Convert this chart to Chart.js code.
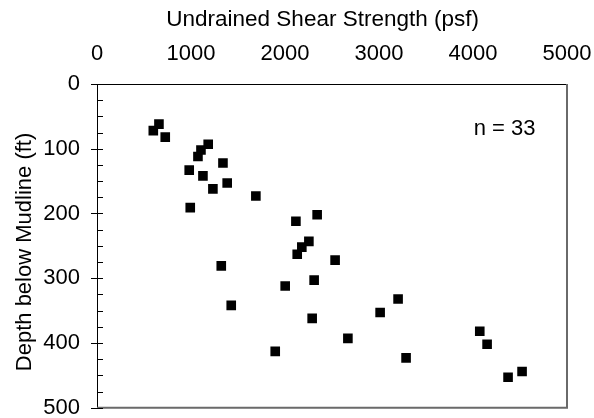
<!DOCTYPE html>
<html>
<head>
<meta charset="utf-8">
<script src="https://cdn.jsdelivr.net/npm/chart.js@4"></script>
<style>
  body { margin: 0; background: #fff; }
  canvas { display: block; }
</style>
</head>
<body>
<canvas id="shear" width="594" height="418"></canvas>
<script>
// shear strength (psf) vs depth below mudline (ft)
const strength = [599, 659, 726, 1183, 1106, 1074, 1340, 981, 1127, 1385, 1233, 1690, 992, 2116,
  2342, 2254, 2179, 2130, 2533, 2310, 2002, 3203, 3012, 2289, 4072, 4150, 2669, 1896, 3288,
  4522, 4373, 1322, 1428];
const depth = [72, 62, 82, 93, 102, 112, 122, 133, 142, 153, 162, 173, 191, 212,
  202, 243, 252, 263, 272, 303, 312, 332, 353, 362, 382, 402, 393, 413, 423,
  444, 453, 281, 342];
const xTicks = [0, 1000, 2000, 3000, 4000, 5000];
const yTicks = [0, 100, 200, 300, 400, 500];
const noteText = 'n = ' + strength.length;
const notePos = [4336, 70];

const FONT = 'Arial, "Liberation Sans", sans-serif';

// frame lines, inner/minor ticks on depth axis, sample count note
const extras = {
  id: 'extras',
  afterDraw(chart) {
    const {ctx, chartArea: a, scales: {x, y}} = chart;
    ctx.save();
    ctx.strokeStyle = '#6a6a6a';
    ctx.lineWidth = 2;
    ctx.beginPath();
    ctx.moveTo(a.right, a.top);
    ctx.lineTo(a.right, a.bottom);
    ctx.lineTo(a.left, a.bottom);
    ctx.stroke();

    ctx.strokeStyle = '#000';
    ctx.lineWidth = 1;
    ctx.beginPath();
    for (let v = 0; v <= 500; v += 25) {
      const py = Math.round(y.getPixelForValue(v)) + 0.5;
      const x0 = v % 100 === 0 ? a.left - 6 : a.left;
      ctx.moveTo(x0, py);
      ctx.lineTo(a.left + 6, py);
    }
    ctx.stroke();

    ctx.fillStyle = '#000';
    ctx.font = '22px ' + FONT;
    ctx.textAlign = 'center';
    ctx.textBaseline = 'middle';
    ctx.fillText(noteText, x.getPixelForValue(notePos[0]), y.getPixelForValue(notePos[1]));
    ctx.restore();
  }
};

new Chart(document.getElementById('shear'), {
  type: 'scatter',
  data: {
    datasets: [{
      data: strength.map((s, i) => ({x: s, y: depth[i]})),
      pointStyle: 'rect',
      pointRadius: 6.8,
      pointHoverRadius: 6.8,
      backgroundColor: '#000',
      borderWidth: 0
    }]
  },
  options: {
    responsive: false,
    animation: false,
    devicePixelRatio: 1,
    layout: { padding: {top: 0, left: 0, right: 27, bottom: 10.3} },
    plugins: { legend: { display: false }, tooltip: { enabled: false } },
    scales: {
      x: {
        type: 'linear',
        position: 'top',
        min: 0,
        max: 5000,
        afterBuildTicks: s => { s.ticks = xTicks.map(v => ({value: v})); },
        afterFit: s => { s.height = 84; s.paddingLeft = 0; s.paddingRight = 0; },
        grid: { display: false, drawTicks: false },
        border: { display: true, color: '#000', width: 1 },
        ticks: { color: '#000', font: {family: FONT, size: 22}, padding: 17, maxRotation: 0,
          callback: v => String(v) },
        title: {
          display: true,
          // trailing spaces nudge the centred title a little left, as in the source
          text: 'Undrained Shear Strength (psf)   ',
          color: '#000',
          font: {family: FONT, size: 22.5, lineHeight: 1.2},
          padding: {top: 6, bottom: 0}
        }
      },
      y: {
        type: 'linear',
        reverse: true,
        min: 0,
        max: 500,
        afterBuildTicks: s => { s.ticks = yTicks.map(v => ({value: v})); },
        afterFit: s => { s.width = 97; s.paddingTop = 0; s.paddingBottom = 0; },
        grid: { display: false, drawTicks: false },
        border: { display: true, color: '#000', width: 1 },
        ticks: { color: '#000', font: {family: FONT, size: 22}, padding: 17,
          callback: v => String(v) },
        title: {
          display: true,
          text: 'Depth below Mudline (ft)  ',
          color: '#000',
          font: {family: FONT, size: 22, lineHeight: 1.2},
          padding: {top: 12, bottom: 0}
        }
      }
    }
  },
  plugins: [extras]
});
</script>
</body>
</html>
